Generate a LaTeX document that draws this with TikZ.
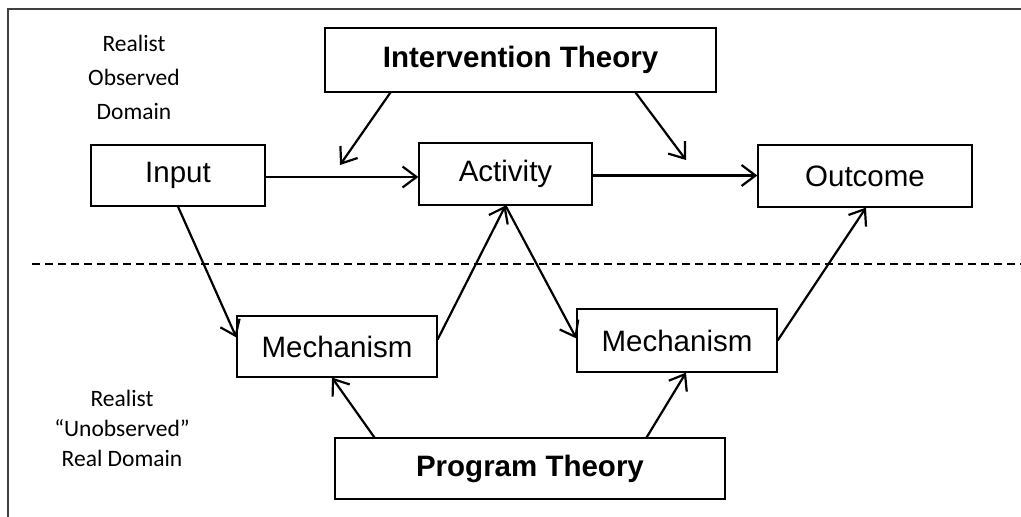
\documentclass[tikz,border=0pt]{standalone}
\usepackage{fontspec}
\setmainfont{Liberation Sans}
\newfontfamily\carl{Carlito}
\usetikzlibrary{arrows.meta}
\begin{document}
\begin{tikzpicture}[x=1pt,y=-1pt,
  box/.style={draw=black,line width=1.2pt,rectangle,inner sep=0pt,
    font=\fontsize{29.5}{34}\selectfont},
  bigbox/.style={box,font=\bfseries\fontsize{29.5}{34}\selectfont},
  conn/.style={line width=2.2pt,-{Straight Barb[length=14pt,width=21pt,line width=2.2pt]}},
  sidelabel/.style={align=center,inner sep=0pt}
]
\useasboundingbox (0,0) rectangle (1021,517);
\fill[white] (0,0) rectangle (1021,517);
% frame
\draw[line width=1.6pt,black!75] (1021,9) -- (8,9) -- (8,517);
% dashed separator
\draw[line width=2.2pt,dash pattern=on 8pt off 5pt] (32,264) -- (1021,264);

% side labels
\node[sidelabel,font=\carl\fontsize{23.5}{34}\selectfont] (obs) at (134,77) {Realist\\Observed\\Domain};
\node[sidelabel,font=\carl\fontsize{23.5}{30}\selectfont] (unobs) at (122,428) {Realist\\“Unobserved”\\Real Domain};

% boxes
\node[bigbox,minimum width=391pt,minimum height=64pt] (IT) at (520.5,60) {Intervention Theory};
\node[box,minimum width=174pt,minimum height=61pt] (Input) at (178,175.5) {Input};
\node[box,minimum width=173pt,minimum height=62pt] (Act) at (505.5,174) {Activity};
\node[box,minimum width=214pt,minimum height=62pt] (Out) at (865,176) {Outcome};
\node[box,minimum width=200pt,minimum height=61pt] (M1) at (337,346.5) {Mechanism};
\node[box,minimum width=200pt,minimum height=63pt] (M2) at (677,340.5) {Mechanism};
\node[bigbox,minimum width=390pt,minimum height=61pt] (PT) at (530,468.5) {Program Theory};

% free ends
\coordinate (e1) at (340,165);
\coordinate (e2) at (686,160);

% connectors
\draw[conn] ([xshift=66pt]IT.south west) -- (e1);
\draw[conn] ([xshift=-81pt]IT.south east) -- (e2);
\draw[conn] ([yshift=-1.5pt]Input.east) -- ([yshift=-1.5pt]Input.east -| Act.west);
\draw[conn] ([yshift=-1.5pt]Act.east) -- ([yshift=-1.5pt]Act.east -| Out.west);
\draw[conn] (Input.south) -- ([yshift=9pt]M1.west);
\draw[conn] ([yshift=7pt]M1.east) -- (Act.south);
\draw[conn] (Act.south) -- ([yshift=2pt]M2.west);
\draw[conn] (M2.east) -- ([xshift=1pt]Out.south);
\draw[conn] ([xshift=40pt]PT.north west) -- ([xshift=-5pt]M1.south);
\draw[conn] ([xshift=-79pt]PT.north east) -- ([xshift=9pt]M2.south);
\end{tikzpicture}
\end{document}
